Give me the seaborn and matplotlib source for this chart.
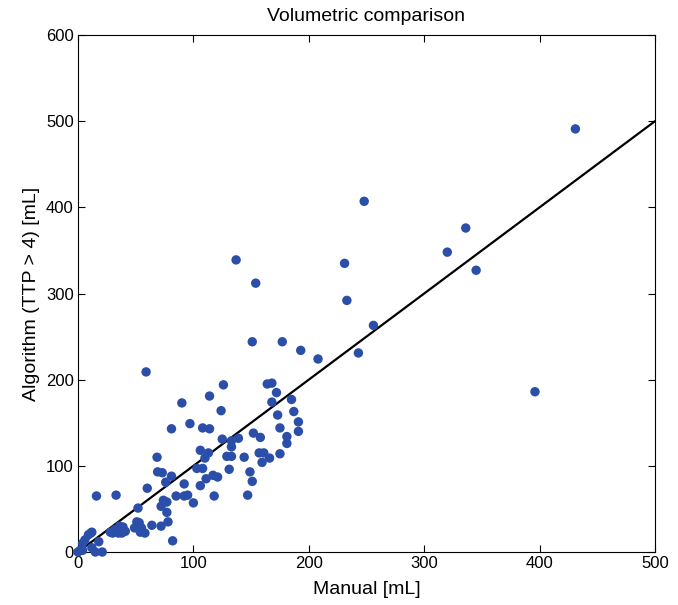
import numpy as np
import pandas as pd
import matplotlib
matplotlib.use('Agg')
import matplotlib.pyplot as plt
import seaborn as sns

# Manual vs algorithm volumes [mL]
manual = [0, 2, 4, 4, 6, 9, 11, 12, 12, 18, 15, 21, 16, 33,
          28, 30, 32, 35, 35, 38, 39, 41, 36,
          49, 51, 53, 54, 55, 58, 52, 60, 64, 72, 78, 82,
          72, 74, 77, 77, 69, 68.5, 73, 81, 76,
          59, 81, 90, 97, 108, 114, 114, 126, 124,
          85, 92, 95, 100, 118, 147,
          92, 106, 103, 108, 111, 117, 121, 131, 149, 151,
          106, 113, 110, 129, 133, 144, 157, 161, 166, 175, 133, 159.5,
          125, 133, 139, 152, 158, 181, 181, 175, 191, 191, 173, 187,
          168, 185, 172, 164, 168,
          151, 177, 193, 208, 137, 154,
          231, 233, 256, 243, 248, 320, 336, 345, 396, 431]
algorithm = [0, 2, 2, 10, 14, 20, 22, 23, 5, 12, 0, 0, 65, 66,
             23, 22, 26, 27, 22, 22, 29, 24, 30,
             28, 35, 34, 23, 28, 22, 51, 74, 31, 30, 35, 13,
             53, 60, 58, 46, 93, 110, 92, 88, 81,
             209, 143, 173, 149, 144, 143, 181, 194, 164,
             65, 65, 66, 57, 65, 66,
             79, 77, 97, 97, 85, 89, 87, 96, 93, 82,
             118, 115, 109, 111, 111, 110, 115, 115, 109, 114, 122, 104,
             131, 129, 132, 138, 133, 134, 126, 144, 140, 151, 159, 163,
             174, 177, 185, 195, 196,
             244, 244, 234, 224, 339, 312,
             335, 292, 263, 231, 407, 348, 376, 327, 186, 491]

identity = [0, 500]

df = pd.DataFrame({'Manual': manual, 'Algorithm': algorithm})

sns.set_style('ticks')
plt.rcParams['font.family'] = ['Liberation Sans', 'DejaVu Sans']
plt.rcParams['text.color'] = 'black'
plt.rcParams['axes.labelcolor'] = 'black'

fig = plt.figure(figsize=(6.78, 6.05), dpi=100)
ax = fig.add_axes([78 / 678, 1 - 552 / 605, (655 - 78) / 678, (552 - 35) / 605])

sns.scatterplot(data=df, x='Manual', y='Algorithm', ax=ax, color='#2b4ea8',
                s=46, edgecolor='none', zorder=3, clip_on=False)
sns.lineplot(x=identity, y=identity, ax=ax, color='black', linewidth=1.6, zorder=2)

ax.set_xlim(0, 500)
ax.set_ylim(0, 600)
ax.set_xticks(range(0, 501, 100))
ax.set_yticks(range(0, 601, 100))
ax.tick_params(direction='in', top=True, right=True, length=5, width=0.8,
               labelsize=12, colors='black', pad=3)
for sp in ax.spines.values():
    sp.set_visible(True)
    sp.set_color('black')
    sp.set_linewidth(0.8)

ax.set_xlabel('Manual [mL]', fontsize=14, labelpad=7)
ax.set_ylabel('Algorithm (TTP > 4) [mL]', fontsize=14, labelpad=4)
ax.set_title('Volumetric comparison', fontsize=14, pad=10)

fig.savefig('out.png', dpi=100)
